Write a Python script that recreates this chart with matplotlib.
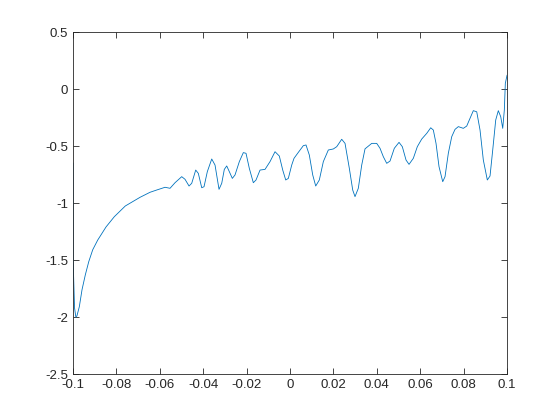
import matplotlib
matplotlib.use('Agg')
import matplotlib.pyplot as plt
import numpy as np

# points
x = [-0.1, -0.09996, -0.0993, -0.0987, -0.0982, -0.0971, -0.09585, -0.09433, -0.09276,
     -0.09092, -0.08862, -0.08479, -0.08097, -0.0759, -0.06912, -0.06452, -0.06143,
     -0.0576, -0.0553, -0.053, -0.04991, -0.04839, -0.04654, -0.0453, -0.04346,
     -0.04226, -0.04069, -0.03963, -0.03811, -0.03608, -0.03456, -0.03272, -0.03147,
     -0.03028, -0.02917, -0.02797, -0.02659, -0.02535, -0.02336, -0.02152, -0.02028,
     -0.01876, -0.01691, -0.01567, -0.01382, -0.01152, -0.00922, -0.00691, -0.00493,
     -0.00336, -0.00198, -0.00078, 0.00078, 0.00184, 0.00382, 0.00613, 0.00737,
     0.00889, 0.01046, 0.01184, 0.0135, 0.01535, 0.01765, 0.01995, 0.02152, 0.02382,
     0.02535, 0.02733, 0.02889, 0.02995, 0.03147, 0.03304, 0.03456, 0.03765, 0.03995,
     0.04147, 0.043, 0.04456, 0.04608, 0.04806, 0.05023, 0.05175, 0.05346, 0.05484,
     0.05682, 0.05866, 0.06069, 0.063, 0.06484, 0.06604, 0.06728, 0.06866, 0.07037,
     0.07143, 0.07295, 0.07452, 0.07604, 0.07756, 0.07986, 0.08143, 0.08295, 0.08447,
     0.08604, 0.08756, 0.08908, 0.09092, 0.09217, 0.09341, 0.09479, 0.09599, 0.0971,
     0.09802, 0.09876, 0.09922, 0.1]
y = [-0.65, -1.5, -1.92, -2.0, -1.99, -1.91, -1.76, -1.63, -1.515,
     -1.41, -1.325, -1.21, -1.12, -1.026, -0.95, -0.906, -0.886,
     -0.862, -0.871, -0.822, -0.769, -0.792, -0.851, -0.827, -0.711,
     -0.74, -0.866, -0.857, -0.725, -0.614, -0.667, -0.88, -0.827,
     -0.705, -0.675, -0.725, -0.784, -0.754, -0.637, -0.558, -0.564,
     -0.696, -0.822, -0.798, -0.711, -0.705, -0.637, -0.55, -0.588,
     -0.711, -0.798, -0.784, -0.667, -0.608, -0.556, -0.497, -0.491,
     -0.579, -0.754, -0.851, -0.798, -0.637, -0.535, -0.526, -0.506, -0.441,
     -0.477, -0.696, -0.886, -0.944, -0.871, -0.667, -0.525, -0.477, -0.477,
     -0.52, -0.594, -0.652, -0.632, -0.52, -0.468, -0.506, -0.623, -0.661,
     -0.608, -0.506, -0.439, -0.389, -0.34, -0.36, -0.477, -0.681, -0.813,
     -0.769, -0.564, -0.418, -0.354, -0.33, -0.345, -0.325, -0.257, -0.19,
     -0.2, -0.36, -0.623, -0.798, -0.763, -0.535, -0.272, -0.19, -0.243,
     -0.345, -0.184, 0.05, 0.12]

xticks = [-0.1, -0.08, -0.06, -0.04, -0.02, 0, 0.02, 0.04, 0.06, 0.08, 0.1]
xlabels = ['-0.1', '-0.08', '-0.06', '-0.04', '-0.02', '0', '0.02', '0.04', '0.06', '0.08', '0.1']
yticks = [-2.5, -2, -1.5, -1, -0.5, 0, 0.5]
ylabels = ['-2.5', '-2', '-1.5', '-1', '-0.5', '0', '0.5']

plt.rcParams['font.family'] = ['Liberation Sans', 'DejaVu Sans']
axcol = '#262626'

fig = plt.figure(figsize=(5.6, 4.2), dpi=100)
ax = fig.add_axes([0.1304, 0.1095, 0.775, 0.8143])
ax.plot(x, y, color='#0072BD', lw=0.6)
ax.set_xlim(-0.1, 0.1)
ax.set_ylim(-2.5, 0.5)
ax.set_xticks(xticks)
ax.set_xticklabels(xlabels)
ax.set_yticks(yticks)
ax.set_yticklabels(ylabels)
ax.tick_params(direction='in', length=4, width=0.6, colors=axcol, labelsize=9.5,
               top=True, right=True, labelcolor=axcol)
for s in ax.spines.values():
    s.set_color(axcol)
    s.set_linewidth(0.6)

fig.savefig('out.png', dpi=100)
